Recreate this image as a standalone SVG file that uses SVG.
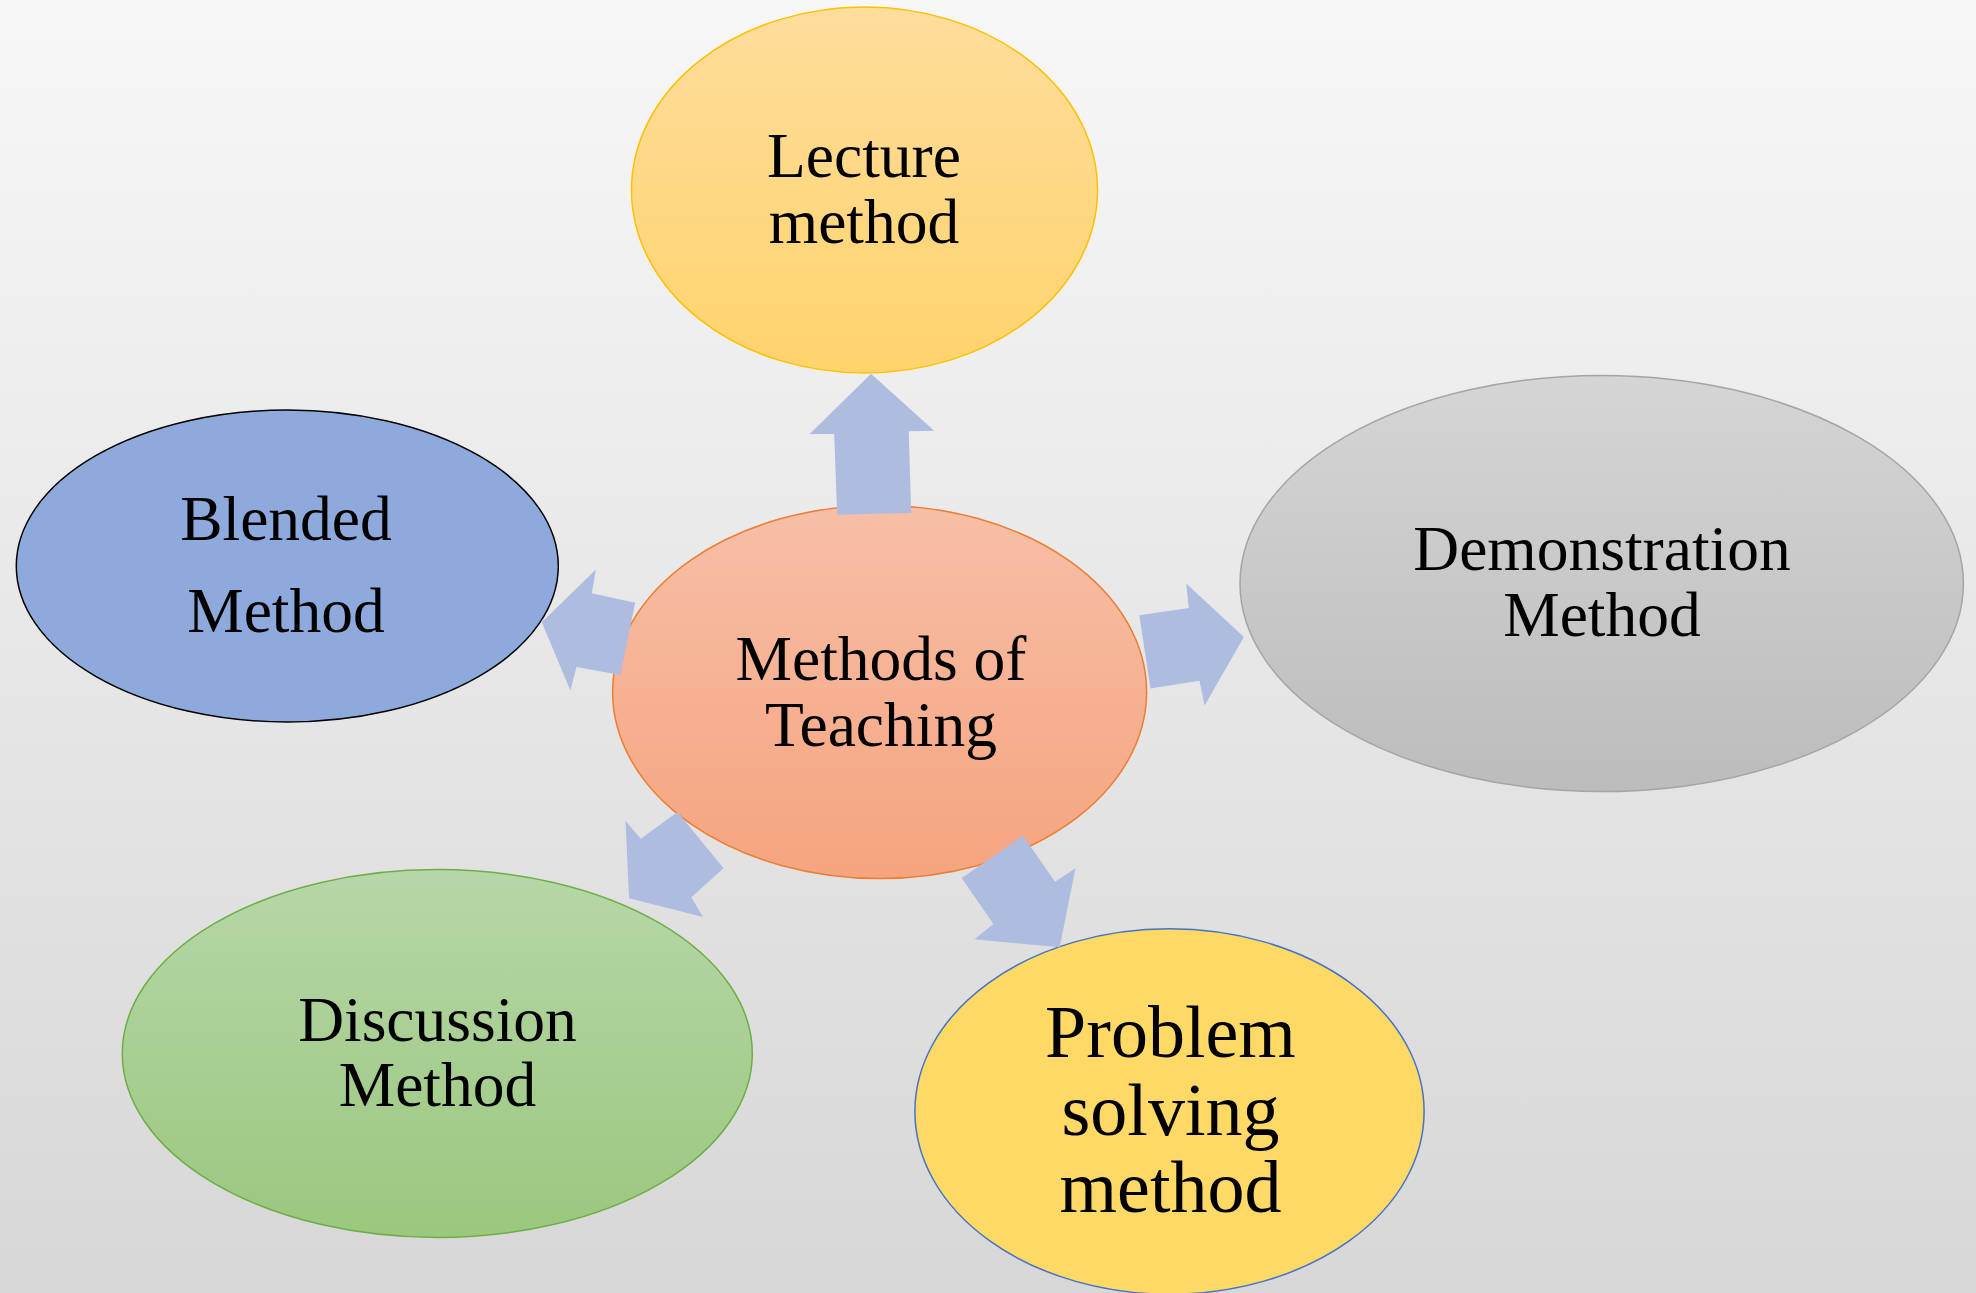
<svg xmlns="http://www.w3.org/2000/svg" width="1976" height="1293" viewBox="0 0 1976 1293">
<defs>
<linearGradient id="bg" x1="0" y1="0" x2="0" y2="1"><stop offset="0" stop-color="#f7f7f7"/><stop offset="1" stop-color="#d7d7d7"/></linearGradient>
<linearGradient id="gLec" x1="0" y1="0" x2="0" y2="1"><stop offset="0" stop-color="#ffdd9c"/><stop offset="1" stop-color="#ffd36c"/></linearGradient>
<linearGradient id="gCen" x1="0" y1="0" x2="0" y2="1"><stop offset="0" stop-color="#f7bfa7"/><stop offset="1" stop-color="#f5a47f"/></linearGradient>
<linearGradient id="gDem" x1="0" y1="0" x2="0" y2="1"><stop offset="0" stop-color="#d5d5d5"/><stop offset="1" stop-color="#bcbcbc"/></linearGradient>
<linearGradient id="gDis" x1="0" y1="0" x2="0" y2="1"><stop offset="0" stop-color="#b6d7a8"/><stop offset="1" stop-color="#9bc77e"/></linearGradient>
</defs>
<style>
.t{font-family:"Liberation Serif","Times New Roman",serif;font-size:63.5px;fill:#000;text-anchor:middle}
.big{font-size:74px}
.arr{fill:#aebcdf;stroke:none}
</style>
<rect x="0" y="0" width="1976" height="1293" fill="url(#bg)"/>
<g id="lecture">
<ellipse cx="864.5" cy="190" rx="233" ry="183" fill="url(#gLec)" stroke="#ffc000" stroke-width="1.5"/>
<text class="t" x="864" y="177">Lecture</text>
<text class="t" x="864" y="243">method</text>
</g>
<g id="blended">
<ellipse cx="287.3" cy="566" rx="271" ry="156" fill="#8eaadc" stroke="#000" stroke-width="1.5"/>
<text class="t" x="286" y="540">Blended</text>
<text class="t" x="286" y="632">Method</text>
</g>
<g id="demonstration">
<ellipse cx="1601.7" cy="583.5" rx="361.7" ry="208" fill="url(#gDem)" stroke="#a5a5a5" stroke-width="1.5"/>
<text class="t" x="1602" y="570">Demonstration</text>
<text class="t" x="1602" y="636">Method</text>
</g>
<g id="discussion">
<ellipse cx="437.3" cy="1053.5" rx="315" ry="184" fill="url(#gDis)" stroke="#70ad47" stroke-width="1.5"/>
<text class="t" x="437.5" y="1041">Discussion</text>
<text class="t" x="437.5" y="1106">Method</text>
</g>
<g id="problem">
<ellipse cx="1169.5" cy="1111.5" rx="254.6" ry="182.7" fill="#ffd966" stroke="#4472c4" stroke-width="1.5"/>
<text class="t big" x="1170.5" y="1057">Problem</text>
<text class="t big" x="1170.5" y="1135">solving</text>
<text class="t big" x="1170.5" y="1212">method</text>
</g>
<g id="center">
<ellipse cx="879.6" cy="692" rx="267" ry="186.5" fill="url(#gCen)" stroke="#ed7d31" stroke-width="1.5"/>
<text class="t" x="881" y="680">Methods of</text>
<text class="t" x="881" y="745.5">Teaching</text>
</g>
<g id="connectors">
<polygon class="arr" points="871,373.7 934.2,430.8 908.7,431.2 911.2,512.9 837.2,514.7 834.2,433.9 809.7,433.9"/>
<polygon class="arr" points="541.8,622.3 595.9,569.6 591.8,593.3 635.2,602.7 620.4,675 576.5,667 570.4,690.6"/>
<polygon class="arr" points="1139.3,615.2 1188.8,608 1186.2,583.5 1243.9,637 1204.6,705.4 1199.5,680.8 1150.5,688.4"/>
<polygon class="arr" points="625.5,821 640.8,838.8 677.6,812 723.5,868.3 691.3,897.3 703.1,917 629.1,898.2"/>
<polygon class="arr" points="1023,835.7 1055.1,881.7 1075.5,868.3 1059.7,947.3 974.5,939.3 993.4,924.1 961.7,878.1"/>
</g>
</svg>
